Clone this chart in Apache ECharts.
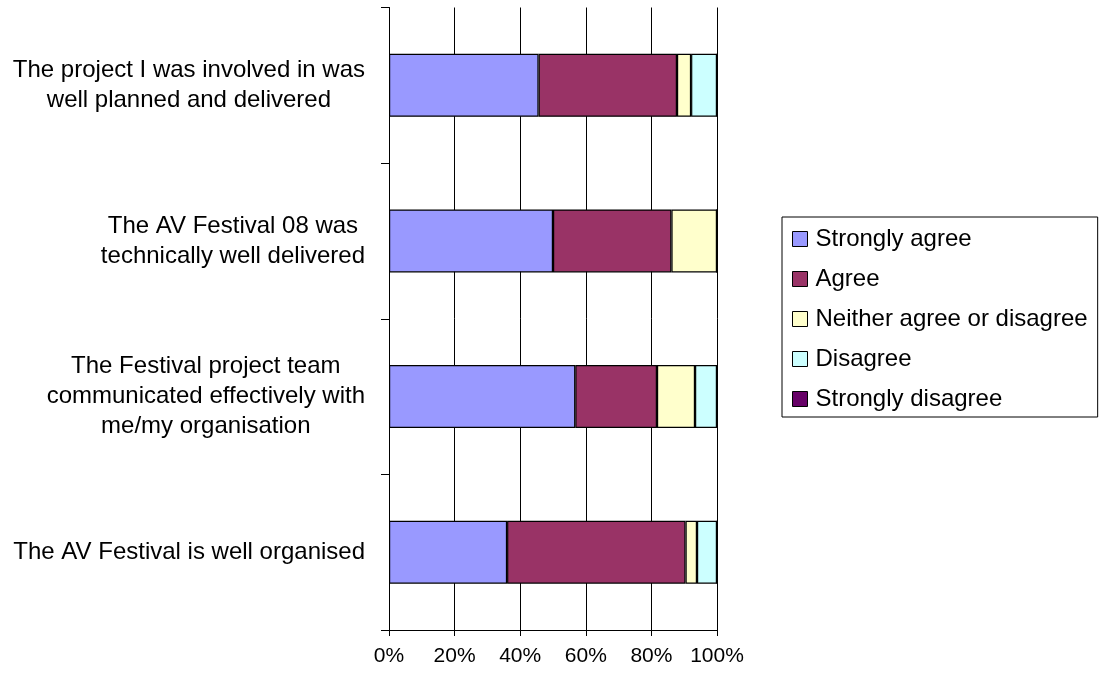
<!DOCTYPE html>
<html>
<head>
<meta charset="utf-8">
<title>AV Festival survey</title>
<script src="https://cdn.jsdelivr.net/npm/echarts@6/dist/echarts.min.js"></script>
<style>
  html, body { margin: 0; padding: 0; background: #fff; }
  #chart { width: 1102px; height: 675px; }
</style>
</head>
<body>
<div id="chart"></div>
<script>
// Survey statements, top to bottom
const categories = [
  'The project I was involved in was\nwell planned and delivered',
  'The AV Festival 08 was\ntechnically well delivered',
  'The Festival project team\ncommunicated effectively with\nme/my organisation',
  'The AV Festival is well organised'
];

// Share of responses (%) for each statement
const stronglyAgree    = [45.6, 50.0, 56.8, 36.0];
const agree            = [42.2, 36.1, 24.9, 54.4];
const neither          = [4.3, 13.9, 11.6, 3.5];
const disagree         = [7.9, 0, 6.7, 6.1];
const stronglyDisagree = [0, 0, 0, 0];

const seriesNames = ['Strongly agree', 'Agree', 'Neither agree or disagree', 'Disagree', 'Strongly disagree'];
const seriesColors = ['#9999FF', '#993366', '#FFFFCC', '#CCFFFF', '#660066'];
const tickValues = [0, 20, 40, 60, 80, 100];

const FONT = "'Liberation Sans', Arial, sans-serif";

// 100% stacked: scale each row so that it totals 100
const raw = [stronglyAgree, agree, neither, disagree, stronglyDisagree];
const totals = categories.map((_, i) => raw.reduce((s, arr) => s + arr[i], 0));
const shares = raw.map(arr => arr.map((v, i) => v / totals[i] * 100));

const chart = echarts.init(document.getElementById('chart'), null, { renderer: 'canvas' });

chart.setOption({
  animation: false,
  backgroundColor: '#ffffff',
  grid: { left: 389, right: 385, top: 7.5, bottom: 45, containLabel: false },
  legend: {
    orient: 'vertical',
    left: 782,
    top: 217,
    padding: [8, 10, 4, 10],
    itemGap: 12,
    itemWidth: 15,
    itemHeight: 15,
    icon: 'rect',
    borderColor: '#000',
    borderWidth: 1,
    itemStyle: { borderColor: '#000', borderWidth: 1 },
    textStyle: { fontFamily: FONT, fontSize: 24, color: '#000', lineHeight: 28, padding: [0, 0, 0, 3] },
    data: seriesNames
  },
  xAxis: {
    type: 'value',
    min: tickValues[0],
    max: tickValues[tickValues.length - 1],
    interval: tickValues[1] - tickValues[0],
    axisLine: { show: true, lineStyle: { color: '#000', width: 1 } },
    axisTick: { show: true, length: 6, lineStyle: { color: '#000' } },
    splitLine: { show: true, lineStyle: { color: '#000', width: 1 } },
    axisLabel: {
      formatter: '{value}%',
      fontFamily: FONT,
      fontSize: 21,
      color: '#000',
      margin: 16
    }
  },
  yAxis: {
    type: 'category',
    inverse: true,
    data: categories,
    axisLine: { show: true, lineStyle: { color: '#000', width: 1 } },
    axisTick: { show: true, length: 8, alignWithLabel: false, lineStyle: { color: '#000' } },
    splitLine: { show: false },
    axisLabel: {
      interval: 0,
      align: 'right',
      margin: 24,
      formatter: v => v.split('\n').map(line => '{c|' + line + '}').join('\n'),
      rich: {
        c: { align: 'center', fontFamily: FONT, fontSize: 24, lineHeight: 30, color: '#000' }
      }
    }
  },
  series: seriesNames.map((name, k) => ({
    name: name,
    type: 'bar',
    stack: 'total',
    barWidth: 63,
    itemStyle: { color: seriesColors[k], borderColor: '#000', borderWidth: 1.2 },
    emphasis: { disabled: true },
    data: shares[k]
  }))
});
</script>
</body>
</html>
